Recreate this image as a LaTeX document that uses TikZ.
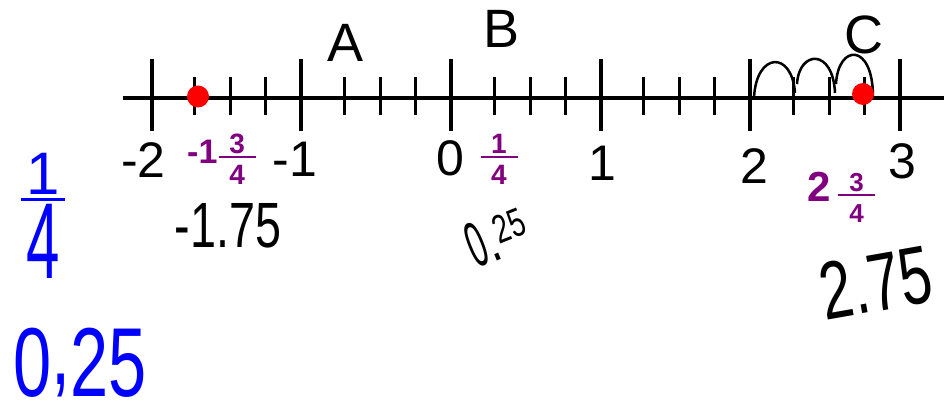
\documentclass[tikz,border=0pt]{standalone}
\usepackage{amsmath}
\usepackage{graphicx}
\usepackage{fontspec}
\setmainfont{Liberation Sans}
\usetikzlibrary{positioning,calc}
\definecolor{mixpurple}{RGB}{128,0,128}
\definecolor{penblue}{RGB}{0,0,255}
\newcommand{\pfrac}[2]{$\genfrac{}{}{2pt}{1}{\makebox[37pt]{#1}}{\rule{0pt}{24pt}\mbox{#2}}$}

\begin{document}
\begin{tikzpicture}[
    x=1pt,y=-1pt,
    axis/.style={line width=4pt},
    tickmajor/.style={line width=4pt},
    tickminor/.style={line width=3pt},
    numlabel/.style={inner sep=0pt,font=\fontsize{50}{50}\selectfont},
    letterlabel/.style={inner sep=0pt,font=\fontsize{54}{54}\selectfont},
    mixlabel/.style={inner sep=0pt,anchor=base,text=mixpurple,font=\bfseries\fontsize{28}{28}\selectfont},
    dot/.style={circle,fill=red,minimum size=22pt,inner sep=0pt},
    hop/.style={line width=2.5pt},
    pen/.style={inner sep=0pt,font=\fontsize{64}{64}\selectfont},
    bluepen/.style={inner sep=0pt,text=penblue}
]
    \useasboundingbox (0,0) rectangle (944,403);

    \coordinate (lineL) at (123,98);
    \coordinate (lineR) at (944,98);
    \draw[axis] (lineL) -- (lineR);

    \foreach \n in {-2,...,3}
        \draw[tickmajor] ({451+149.6*\n},59) -- ++(0,72);
    \foreach \n in {-2,...,2}
        \foreach \d in {43,79,114}
            \draw[tickminor] ({451+149.6*\n+\d},77) -- ++(0,38);

    \node[numlabel] (labm2) at (143.5,160) {-2};
    \node[numlabel] (labm1) at (295,159) {-1};
    \node[numlabel] (lab0) at (450,158) {0};
    \node[numlabel] (lab1) at (602,163) {1};
    \node[numlabel] (lab2) at (754,166) {2};
    \node[numlabel] (lab3) at (902,161) {3};

    \node[letterlabel] (ptA) at (346,42.5) {A};
    \node[letterlabel] (ptB) at (502,29) {B};
    \node[letterlabel] (ptC) at (864,35) {C};

    \node[mixlabel] (mixneg) at (222,163.5) {{\fontsize{34}{34}\selectfont -1}\pfrac{3}{4}};
    \node[mixlabel] (mixquarter) at (499,163.5) {\pfrac{1}{4}};
    \node[mixlabel,font=\bfseries\fontsize{26}{26}\selectfont] (mixpos) at (842,201.5) {{\fontsize{42}{42}\selectfont 2}\hspace{6pt}\pfrac{3}{4}};

    \coordinate (h0) at (754,98);
    \coordinate (h1) at (795,93);
    \coordinate (h2) at (797,84);
    \coordinate (h3) at (835,93);
    \coordinate (h4) at (836,84);
    \coordinate (h5) at (873,97);
    \draw[hop] (h0) .. controls +(2,-46) and +(-3,-43) .. (h1);
    \draw[hop] (h2) .. controls +(2,-34) and +(-2,-45) .. (h3);
    \draw[hop] (h4) .. controls +(2,-40) and +(0,-55) .. (h5);

    \node[dot] (ptneg) at (198,96.5) {};
    \node[dot] (ptpos) at (863,94) {};

    \node[pen] (decneg) at (228,226) {\scalebox{0.73}[1]{-1.75}};
    \node[pen,font=\fontsize{64}{64}\selectfont] (decquarter) at (497,237) {\rotatebox{22}{\scalebox{0.5}[1]{0}\scalebox{0.7}[1]{.}\raisebox{14pt}{\fontsize{40}{40}\selectfont\scalebox{0.7}[1]{25}}}};
    \node[pen,font=\fontsize{82}{82}\selectfont] (decpos) at (876,283) {\rotatebox{10}{\scalebox{0.7}[1]{2.75}}};

    \node[bluepen,font=\fontsize{60}{60}\selectfont] (bluefrac) at (43,216) {$\genfrac{}{}{3pt}{1}{\makebox[45pt]{1}}{\mbox{\scalebox{1}[1.8]{4}}}$};
    \node[bluepen,font=\fontsize{98}{98}\selectfont,anchor=base] (bluedec) at (80,396) {\scalebox{0.7}[1]{0\raisebox{12pt}{,}25}};
\end{tikzpicture}
\end{document}
